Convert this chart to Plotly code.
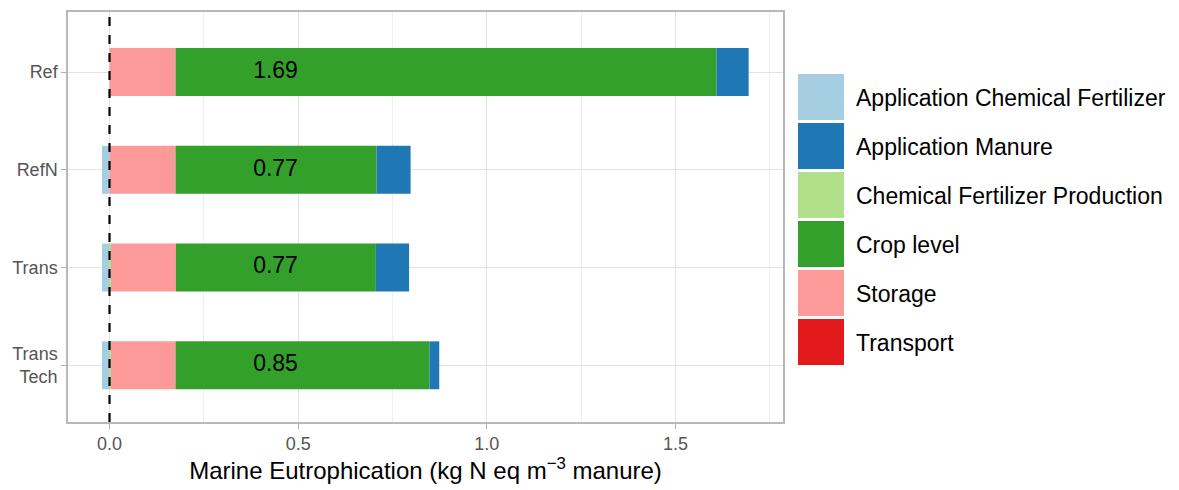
import plotly.graph_objects as go

categories = ["Ref", "RefN", "Trans", "Trans<br>Tech"]
app_chem = [0.0, -0.02, -0.02, -0.02]
chem_prod = [0.0, 0.0, 0.004, 0.004]
storage = [0.175, 0.175, 0.172, 0.171]
transport = [0.0, 0.0, 0.0, 0.0]
crop = [1.434, 0.533, 0.53, 0.673]
app_manure = [0.085, 0.09, 0.088, 0.026]
totals = [1.69, 0.77, 0.77, 0.85]
label_x = [0.44, 0.44, 0.44, 0.44]

legend_names = ["Application Chemical Fertilizer", "Application Manure",
                "Chemical Fertilizer Production", "Crop level", "Storage", "Transport"]
colors = {"Application Chemical Fertilizer": "#a6cee3", "Application Manure": "#1f78b4",
          "Chemical Fertilizer Production": "#b2df8a", "Crop level": "#33a02c",
          "Storage": "#fb9a99", "Transport": "#e31a1c"}

W, H = 1179, 490
L, R, T, B = 68, 783, 12, 422

fig = go.Figure()
series = [("Application Chemical Fertilizer", app_chem),
          ("Chemical Fertilizer Production", chem_prod),
          ("Storage", storage),
          ("Transport", transport),
          ("Crop level", crop),
          ("Application Manure", app_manure)]
for name, vals in series:
    fig.add_trace(go.Bar(y=categories, x=vals, orientation="h", name=name,
                         marker=dict(color=colors[name], line=dict(width=0)),
                         width=0.49, showlegend=False, hoverinfo="x+name"))

fig.add_trace(go.Scatter(x=label_x, y=categories, mode="text",
                         text=[f"{v:.2f}" for v in totals],
                         textfont=dict(size=23, color="black", family="Liberation Sans"),
                         showlegend=False, hoverinfo="skip"))

fig.add_shape(type="line", xref="x", yref="paper", x0=0, x1=0, y0=0, y1=1,
              line=dict(color="black", width=2.2, dash="dash"), layer="above")

def px(x):
    return (x - L) / (R - L)

def py(y):
    return (B - y) / (B - T)

for i, name in enumerate(legend_names):
    top = 74 + i * 49
    fig.add_shape(type="rect", xref="paper", yref="paper",
                  x0=px(798), x1=px(844), y0=py(top + 46), y1=py(top),
                  fillcolor=colors[name], line=dict(width=0), layer="above")
    fig.add_annotation(xref="paper", yref="paper", x=px(854), y=py(top + 24),
                       text=name, showarrow=False, xanchor="left", yanchor="middle",
                       font=dict(size=23, color="black", family="Liberation Sans"))

fig.update_layout(
    width=W, height=H, barmode="relative",
    margin=dict(l=L, r=W - R, t=T, b=H - B),
    plot_bgcolor="white", paper_bgcolor="white",
    font=dict(family="Liberation Sans", color="#4d4d4d"),
    xaxis=dict(range=[-0.11, 1.785], tick0=0, dtick=0.5, tickformat=".1f",
               automargin=False,
               showgrid=True, gridcolor="#e3e3e3", gridwidth=1.2,
               minor=dict(dtick=0.25, showgrid=True, gridcolor="#efefef", gridwidth=1),
               zeroline=False, showline=True, linecolor="#b8b8b8", linewidth=1.5, mirror=True,
               ticks="outside", ticklen=5, tickcolor="#b0b0b0",
               tickfont=dict(size=18, color="#555555"),
               title=dict(text="Marine Eutrophication (kg N eq m<sup>−3</sup> manure)",
                          font=dict(size=24, color="black"), standoff=9)),
    yaxis=dict(range=[3.58, -0.614], automargin=False,
               showgrid=True, gridcolor="#e3e3e3", gridwidth=1.2,
               showline=True, linecolor="#b8b8b8", linewidth=1.5, mirror=True,
               ticks="outside", ticklen=5, tickcolor="#b0b0b0",
               tickfont=dict(size=18, color="#555555")),
)

fig.write_html("out.html")
